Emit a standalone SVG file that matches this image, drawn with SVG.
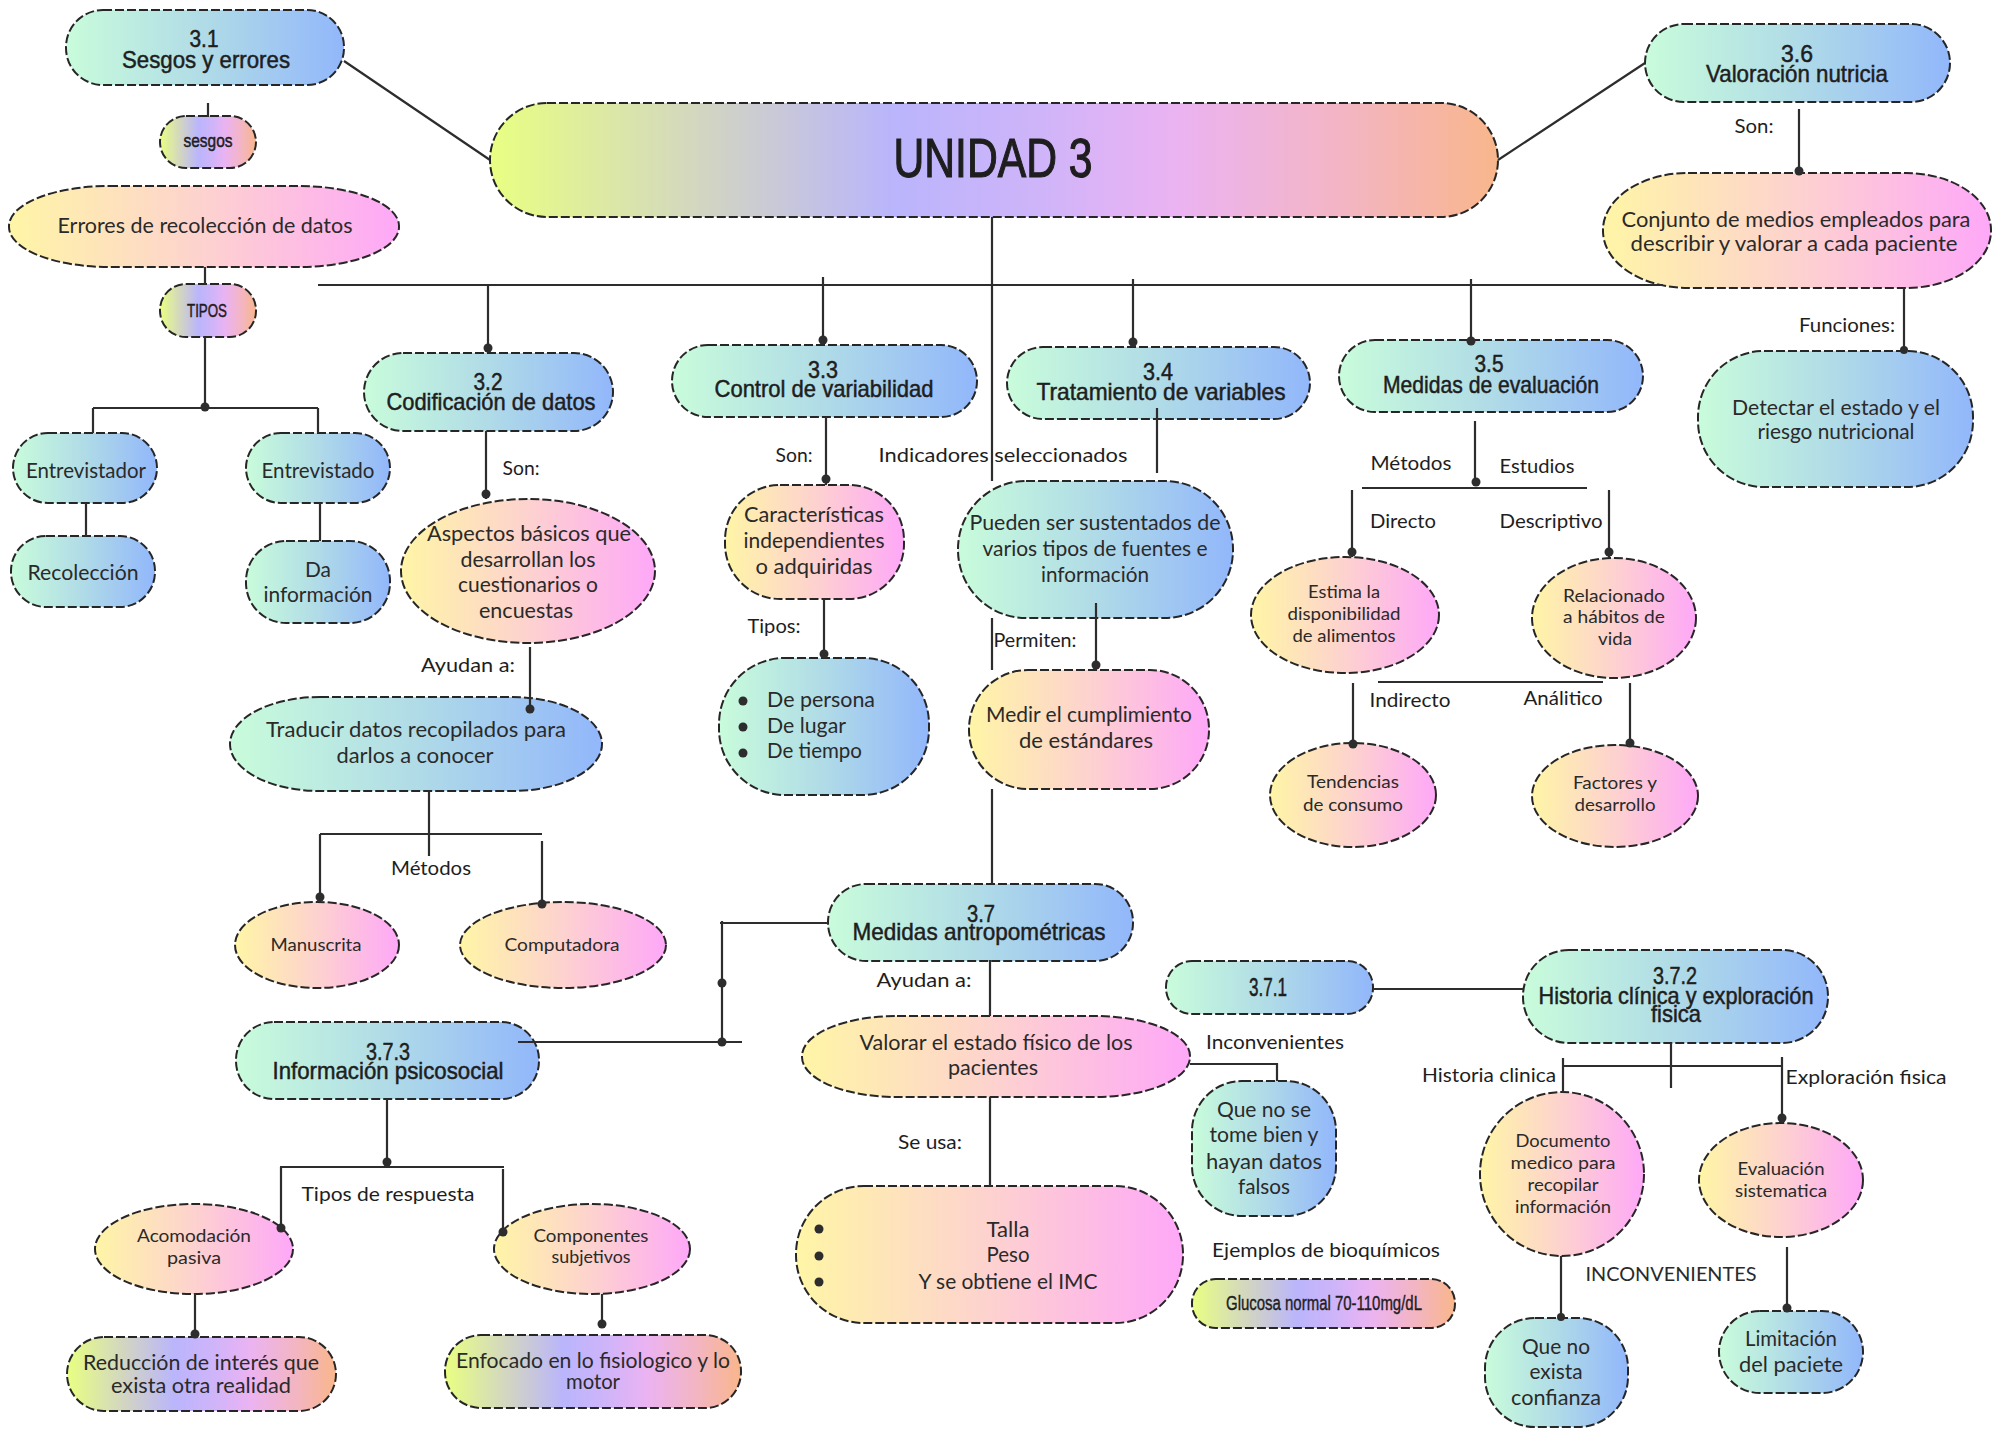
<svg xmlns="http://www.w3.org/2000/svg" width="1993" height="1431" viewBox="0 0 1993 1431">
<defs>
<linearGradient id="gB" x1="0" y1="0" x2="1" y2="0"><stop offset="0" stop-color="#c9fcdb"/><stop offset="0.5" stop-color="#b0dbe7"/><stop offset="1" stop-color="#92b7fb"/></linearGradient>
<linearGradient id="gP" x1="0" y1="0" x2="1" y2="0"><stop offset="0" stop-color="#fff5a6"/><stop offset="0.5" stop-color="#fdd2cf"/><stop offset="1" stop-color="#fea8f8"/></linearGradient>
<linearGradient id="gR" x1="0" y1="0" x2="1" y2="0"><stop offset="0" stop-color="#e8ff82"/><stop offset="0.22" stop-color="#d1d4c4"/><stop offset="0.4" stop-color="#bab5fc"/><stop offset="0.55" stop-color="#d0b4f9"/><stop offset="0.68" stop-color="#ebb3f2"/><stop offset="0.85" stop-color="#f3b5c2"/><stop offset="1" stop-color="#f9b68b"/></linearGradient>
<style>
.n{stroke:#262626;stroke-width:2;stroke-dasharray:9 3}
.B{fill:url(#gB)}.P{fill:url(#gP)}.R{fill:url(#gR)}
.c{stroke:#2d2d2d;stroke-width:2.2;fill:none}
.d{fill:#2d2d2d}
.h{font-family:"Liberation Sans Narrow","Liberation Sans",Arial,sans-serif;font-size:24px;fill:#1e1e1e;stroke:#1e1e1e;stroke-width:0.5;text-anchor:middle}
.b{font-family:Lato,"Open Sans",sans-serif;font-size:21px;fill:#2a2a2a;text-anchor:middle}
.l{font-family:Lato,"Open Sans",sans-serif;font-size:20px;fill:#1e1e1e;text-anchor:middle}
.s{font-family:Lato,"Open Sans",sans-serif;font-size:18px;fill:#2a2a2a;text-anchor:middle}
</style>
</defs>
<rect width="1993" height="1431" fill="#ffffff"/>

<g id="nodes">
<g id="n31"><rect class="n B" x="66" y="10" width="278" height="75" rx="37"/><text class="h"><tspan x="204" y="47" textLength="29" lengthAdjust="spacingAndGlyphs">3.1</tspan><tspan x="206" y="68" textLength="168" lengthAdjust="spacingAndGlyphs">Sesgos y errores</tspan></text></g>
<g id="nsesgos"><rect class="n R" x="160" y="116" width="96" height="52" rx="26"/><text class="h" x="208" y="147" style="font-size:19px" textLength="49" lengthAdjust="spacingAndGlyphs">sesgos</text></g>
<g id="nerrores"><rect class="n P" x="9" y="186" width="390" height="81" rx="100" ry="40"/><text class="b" x="205" y="233" textLength="295" lengthAdjust="spacingAndGlyphs">Errores de recolección de datos</text></g>
<g id="ntipos"><rect class="n R" x="160" y="284" width="96" height="53" rx="26"/><text class="h" x="207" y="317" style="font-size:19px" textLength="40" lengthAdjust="spacingAndGlyphs">TIPOS</text></g>
<g id="nunidad"><rect class="n R" x="490" y="103" width="1008" height="114" rx="57"/><text class="h" x="993" y="177" style="font-size:55px;stroke-width:1.2" textLength="199" lengthAdjust="spacingAndGlyphs">UNIDAD 3</text></g>
<g id="n36"><rect class="n B" x="1645" y="24" width="305" height="78" rx="39"/><text class="h"><tspan x="1797" y="62" textLength="32" lengthAdjust="spacingAndGlyphs">3.6</tspan><tspan x="1797" y="82" textLength="182" lengthAdjust="spacingAndGlyphs">Valoración nutricia</tspan></text></g>
<g id="nconjunto"><rect class="n P" x="1603" y="173" width="388" height="115" rx="85" ry="57"/><text class="b"><tspan x="1796" y="227" textLength="349" lengthAdjust="spacingAndGlyphs">Conjunto de medios empleados para</tspan><tspan x="1794" y="251" textLength="327" lengthAdjust="spacingAndGlyphs">describir y valorar a cada paciente</tspan></text></g>
<g id="ndetectar"><rect class="n B" x="1698" y="351" width="275" height="136" rx="66"/><text class="b"><tspan x="1836" y="415" textLength="208" lengthAdjust="spacingAndGlyphs">Detectar el estado y el</tspan><tspan x="1836" y="439" textLength="157" lengthAdjust="spacingAndGlyphs">riesgo nutricional</tspan></text></g>
<g id="n32"><rect class="n B" x="364" y="353" width="249" height="78" rx="39"/><text class="h"><tspan x="488" y="390" textLength="29" lengthAdjust="spacingAndGlyphs">3.2</tspan><tspan x="491" y="410" textLength="209" lengthAdjust="spacingAndGlyphs">Codificación de datos</tspan></text></g>
<g id="n33"><rect class="n B" x="672" y="345" width="305" height="72" rx="36"/><text class="h"><tspan x="823" y="378" textLength="30" lengthAdjust="spacingAndGlyphs">3.3</tspan><tspan x="824" y="397" textLength="219" lengthAdjust="spacingAndGlyphs">Control de variabilidad</tspan></text></g>
<g id="n34"><rect class="n B" x="1007" y="347" width="303" height="72" rx="36"/><text class="h"><tspan x="1158" y="380" textLength="30" lengthAdjust="spacingAndGlyphs">3.4</tspan><tspan x="1161" y="400" textLength="249" lengthAdjust="spacingAndGlyphs">Tratamiento de variables</tspan></text></g>
<g id="n35"><rect class="n B" x="1339" y="340" width="304" height="72" rx="36"/><text class="h"><tspan x="1489" y="372" textLength="29" lengthAdjust="spacingAndGlyphs">3.5</tspan><tspan x="1491" y="393" textLength="216" lengthAdjust="spacingAndGlyphs">Medidas de evaluación</tspan></text></g>
<g id="nentrevistador"><rect class="n B" x="13" y="433" width="144" height="70" rx="35"/><text class="b" x="86" y="478" textLength="120" lengthAdjust="spacingAndGlyphs">Entrevistador</text></g>
<g id="nrecoleccion"><rect class="n B" x="11" y="536" width="144" height="71" rx="35"/><text class="b" x="83" y="580" textLength="111" lengthAdjust="spacingAndGlyphs">Recolección</text></g>
<g id="nentrevistado"><rect class="n B" x="246" y="433" width="144" height="70" rx="35"/><text class="b" x="318" y="478" textLength="113" lengthAdjust="spacingAndGlyphs">Entrevistado</text></g>
<g id="ndainfo"><rect class="n B" x="246" y="541" width="144" height="82" rx="40"/><text class="b"><tspan x="318" y="577" textLength="26" lengthAdjust="spacingAndGlyphs">Da</tspan><tspan x="318" y="602" textLength="109" lengthAdjust="spacingAndGlyphs">información</tspan></text></g>
<g id="naspectos"><ellipse class="n P" cx="528" cy="571" rx="127" ry="72"/><text class="b"><tspan x="529" y="541" textLength="204" lengthAdjust="spacingAndGlyphs">Aspectos básicos que</tspan><tspan x="528" y="567" textLength="135" lengthAdjust="spacingAndGlyphs">desarrollan los</tspan><tspan x="528" y="592" textLength="140" lengthAdjust="spacingAndGlyphs">cuestionarios o</tspan><tspan x="526" y="618" textLength="94" lengthAdjust="spacingAndGlyphs">encuestas</tspan></text></g>
<g id="ntraducir"><rect class="n B" x="230" y="697" width="372" height="94" rx="90" ry="47"/><text class="b"><tspan x="416" y="737" textLength="300" lengthAdjust="spacingAndGlyphs">Traducir datos recopilados para</tspan><tspan x="415" y="763" textLength="157" lengthAdjust="spacingAndGlyphs">darlos a conocer</tspan></text></g>
<g id="nmanuscrita"><ellipse class="n P" cx="317" cy="945" rx="82" ry="43"/><text class="s" x="316" y="951" textLength="91" lengthAdjust="spacingAndGlyphs">Manuscrita</text></g>
<g id="ncomputadora"><ellipse class="n P" cx="563" cy="945" rx="103" ry="43"/><text class="s" x="562" y="951" textLength="115" lengthAdjust="spacingAndGlyphs">Computadora</text></g>
<g id="ncaract"><rect class="n P" x="725" y="485" width="179" height="114" rx="55"/><text class="b"><tspan x="814" y="522" textLength="140" lengthAdjust="spacingAndGlyphs">Características</tspan><tspan x="814" y="548" textLength="141" lengthAdjust="spacingAndGlyphs">independientes</tspan><tspan x="814" y="574" textLength="117" lengthAdjust="spacingAndGlyphs">o adquiridas</tspan></text></g>
<g id="ndepersona"><rect class="n B" x="719" y="658" width="210" height="137" rx="66"/><circle class="d" cx="743" cy="701" r="4.5"/><circle class="d" cx="743" cy="727" r="4.5"/><circle class="d" cx="743" cy="753" r="4.5"/><text class="b" style="text-anchor:start"><tspan x="767" y="707" textLength="108" lengthAdjust="spacingAndGlyphs">De persona</tspan><tspan x="767" y="733" textLength="79" lengthAdjust="spacingAndGlyphs">De lugar</tspan><tspan x="767" y="758" textLength="95" lengthAdjust="spacingAndGlyphs">De tiempo</tspan></text></g>
<g id="npueden"><rect class="n B" x="958" y="481" width="275" height="137" rx="68"/><text class="b"><tspan x="1095" y="530" textLength="251" lengthAdjust="spacingAndGlyphs">Pueden ser sustentados de</tspan><tspan x="1095" y="556" textLength="225" lengthAdjust="spacingAndGlyphs">varios tipos de fuentes e</tspan><tspan x="1095" y="582" textLength="108" lengthAdjust="spacingAndGlyphs">información</tspan></text></g>
<g id="nmedir"><rect class="n P" x="969" y="670" width="240" height="119" rx="59"/><text class="b"><tspan x="1089" y="722" textLength="206" lengthAdjust="spacingAndGlyphs">Medir el cumplimiento</tspan><tspan x="1086" y="748" textLength="134" lengthAdjust="spacingAndGlyphs">de estándares</tspan></text></g>
<g id="nestima"><ellipse class="n P" cx="1345" cy="615" rx="94" ry="58"/><text class="s"><tspan x="1344" y="598" textLength="72" lengthAdjust="spacingAndGlyphs">Estima la</tspan><tspan x="1344" y="620" textLength="113" lengthAdjust="spacingAndGlyphs">disponibilidad</tspan><tspan x="1344" y="642" textLength="103" lengthAdjust="spacingAndGlyphs">de alimentos</tspan></text></g>
<g id="nrelacionado"><ellipse class="n P" cx="1614" cy="618" rx="82" ry="60"/><text class="s"><tspan x="1614" y="602" textLength="102" lengthAdjust="spacingAndGlyphs">Relacionado</tspan><tspan x="1614" y="623" textLength="102" lengthAdjust="spacingAndGlyphs">a hábitos de</tspan><tspan x="1615" y="645" textLength="34" lengthAdjust="spacingAndGlyphs">vida</tspan></text></g>
<g id="ntendencias"><ellipse class="n P" cx="1353" cy="795" rx="83" ry="52"/><text class="s"><tspan x="1353" y="788" textLength="92" lengthAdjust="spacingAndGlyphs">Tendencias</tspan><tspan x="1353" y="811" textLength="100" lengthAdjust="spacingAndGlyphs">de consumo</tspan></text></g>
<g id="nfactores"><ellipse class="n P" cx="1615" cy="796" rx="83" ry="51"/><text class="s"><tspan x="1615" y="789" textLength="84" lengthAdjust="spacingAndGlyphs">Factores y</tspan><tspan x="1615" y="811" textLength="81" lengthAdjust="spacingAndGlyphs">desarrollo</tspan></text></g>
<g id="n37"><rect class="n B" x="828" y="884" width="305" height="77" rx="38"/><text class="h"><tspan x="981" y="922" textLength="28" lengthAdjust="spacingAndGlyphs">3.7</tspan><tspan x="979" y="940" textLength="253" lengthAdjust="spacingAndGlyphs">Medidas antropométricas</tspan></text></g>
<g id="n373"><rect class="n B" x="236" y="1022" width="303" height="77" rx="38"/><text class="h"><tspan x="388" y="1060" textLength="44" lengthAdjust="spacingAndGlyphs">3.7.3</tspan><tspan x="388" y="1079" textLength="231" lengthAdjust="spacingAndGlyphs">Información psicosocial</tspan></text></g>
<g id="nvalorar"><rect class="n P" x="802" y="1016" width="388" height="81" rx="95" ry="40"/><text class="b"><tspan x="996" y="1050" textLength="273" lengthAdjust="spacingAndGlyphs">Valorar el estado físico de los</tspan><tspan x="993" y="1075" textLength="90" lengthAdjust="spacingAndGlyphs">pacientes</tspan></text></g>
<g id="nqueno"><rect class="n B" x="1192" y="1081" width="144" height="135" rx="50"/><text class="b"><tspan x="1264" y="1117" textLength="94" lengthAdjust="spacingAndGlyphs">Que no se</tspan><tspan x="1264" y="1142" textLength="109" lengthAdjust="spacingAndGlyphs">tome bien y</tspan><tspan x="1264" y="1169" textLength="116" lengthAdjust="spacingAndGlyphs">hayan datos</tspan><tspan x="1264" y="1194" textLength="52" lengthAdjust="spacingAndGlyphs">falsos</tspan></text></g>
<g id="ntalla"><rect class="n P" x="796" y="1186" width="387" height="137" rx="68"/><circle class="d" cx="819" cy="1229" r="4.5"/><circle class="d" cx="819" cy="1256" r="4.5"/><circle class="d" cx="819" cy="1282" r="4.5"/><text class="b"><tspan x="1008" y="1237" textLength="43" lengthAdjust="spacingAndGlyphs">Talla</tspan><tspan x="1008" y="1262" textLength="43" lengthAdjust="spacingAndGlyphs">Peso</tspan><tspan x="1008" y="1289" textLength="179" lengthAdjust="spacingAndGlyphs">Y se obtiene el IMC</tspan></text></g>
<g id="nglucosa"><rect class="n R" x="1192" y="1279" width="263" height="49" rx="24"/><text class="h" x="1324" y="1310" style="font-size:20px;stroke-width:0.4" textLength="196" lengthAdjust="spacingAndGlyphs">Glucosa normal 70-110mg/dL</text></g>
<g id="n371"><rect class="n B" x="1166" y="961" width="207" height="53" rx="26"/><text class="h" x="1268" y="996" style="font-size:25px" textLength="38" lengthAdjust="spacingAndGlyphs">3.7.1</text></g>
<g id="n372"><rect class="n B" x="1523" y="950" width="305" height="93" rx="46"/><text class="h"><tspan x="1675" y="984" textLength="44" lengthAdjust="spacingAndGlyphs">3.7.2</tspan><tspan x="1676" y="1004" textLength="275" lengthAdjust="spacingAndGlyphs">Historia clínica y exploración</tspan><tspan x="1676" y="1022" textLength="50" lengthAdjust="spacingAndGlyphs">fisica</tspan></text></g>
<g id="ndocumento"><ellipse class="n P" cx="1562" cy="1174" rx="82" ry="82"/><text class="s"><tspan x="1563" y="1147" textLength="95" lengthAdjust="spacingAndGlyphs">Documento</tspan><tspan x="1563" y="1169" textLength="105" lengthAdjust="spacingAndGlyphs">medico para</tspan><tspan x="1563" y="1191" textLength="71" lengthAdjust="spacingAndGlyphs">recopilar</tspan><tspan x="1563" y="1213" textLength="96" lengthAdjust="spacingAndGlyphs">información</tspan></text></g>
<g id="nevaluacion"><ellipse class="n P" cx="1781" cy="1180" rx="82" ry="57"/><text class="s"><tspan x="1781" y="1175" textLength="87" lengthAdjust="spacingAndGlyphs">Evaluación</tspan><tspan x="1781" y="1197" textLength="92" lengthAdjust="spacingAndGlyphs">sistematica</tspan></text></g>
<g id="nquenoexista"><rect class="n B" x="1485" y="1318" width="143" height="109" rx="50"/><text class="b"><tspan x="1556" y="1354" textLength="68" lengthAdjust="spacingAndGlyphs">Que no</tspan><tspan x="1556" y="1379" textLength="53" lengthAdjust="spacingAndGlyphs">exista</tspan><tspan x="1556" y="1405" textLength="90" lengthAdjust="spacingAndGlyphs">confianza</tspan></text></g>
<g id="nlimitacion"><rect class="n B" x="1719" y="1311" width="144" height="82" rx="41"/><text class="b"><tspan x="1791" y="1346" textLength="92" lengthAdjust="spacingAndGlyphs">Limitación</tspan><tspan x="1791" y="1372" textLength="104" lengthAdjust="spacingAndGlyphs">del paciete</tspan></text></g>
<g id="nacomodacion"><ellipse class="n P" cx="194" cy="1249" rx="99" ry="45"/><text class="s"><tspan x="194" y="1242" textLength="114" lengthAdjust="spacingAndGlyphs">Acomodación</tspan><tspan x="194" y="1264" textLength="54" lengthAdjust="spacingAndGlyphs">pasiva</tspan></text></g>
<g id="ncomponentes"><ellipse class="n P" cx="592" cy="1249" rx="98" ry="45"/><text class="s"><tspan x="591" y="1242" textLength="115" lengthAdjust="spacingAndGlyphs">Componentes</tspan><tspan x="591" y="1263" textLength="79" lengthAdjust="spacingAndGlyphs">subjetivos</tspan></text></g>
<g id="nreduccion"><rect class="n R" x="67" y="1337" width="269" height="74" rx="37"/><text class="b"><tspan x="201" y="1370" textLength="236" lengthAdjust="spacingAndGlyphs">Reducción de interés que</tspan><tspan x="201" y="1393" textLength="180" lengthAdjust="spacingAndGlyphs">exista otra realidad</tspan></text></g>
<g id="nenfocado"><rect class="n R" x="445" y="1335" width="296" height="73" rx="36"/><text class="b"><tspan x="593" y="1368" textLength="274" lengthAdjust="spacingAndGlyphs">Enfocado en lo fisiologico y lo</tspan><tspan x="593" y="1389" textLength="54" lengthAdjust="spacingAndGlyphs">motor</tspan></text></g>
</g>

<g id="connectors">
<path class="c" d="M344 61 L490 160 M208 103 V117 M205 267 V284 M205 337 V408 M93 408 H318 M93 408 V433 M318 408 V433"/>
<path class="c" d="M318 285 H1663 M488 285 V353 M823 277 V345 M1133 279 V347 M1471 279 V340"/>
<path class="c" d="M992 217 V481 M992 618 V670 M992 789 V884"/>
<path class="c" d="M1498 160 L1645 63 M1799 109 V173 M1904 288 V351"/>
<path class="c" d="M86 503 V536 M320 503 V541 M486 431 V499 M530 647 V709"/>
<path class="c" d="M429 791 V856 M320 834 H542 M320 834 V902 M542 841 V904"/>
<path class="c" d="M826 417 V485 M824 599 V658 M1157 408 V473 M1096 603 V670"/>
<path class="c" d="M1475 421 V482 M1362 488 H1587 M1352 490 V557 M1609 490 V558 M1378 682 H1603 M1353 683 V744 M1630 683 V745"/>
<path class="c" d="M828 923 H720 M722 921 V1042 M518 1042 H742 M990 960 V1016 M1190 1064 H1277 V1081 M990 1097 V1186"/>
<path class="c" d="M1373 989 H1523 M1671 1043 V1088 M1563 1066 H1783 M1563 1058 V1093 M1782 1057 V1123 M1561 1256 V1318 M1787 1247 V1311"/>
<path class="c" d="M387 1099 V1167 M280 1167 H504 M281 1167 V1230 M503 1169 V1232 M195 1293 V1337 M602 1294 V1324"/>
<g class="d">
<circle cx="205" cy="407" r="4.5"/><circle cx="488" cy="348" r="4.5"/><circle cx="823" cy="340" r="4.5"/><circle cx="1133" cy="342" r="4.5"/><circle cx="1471" cy="341" r="4.5"/>
<circle cx="1799" cy="171" r="4.5"/><circle cx="1904" cy="350" r="4"/><circle cx="486" cy="494" r="4.5"/><circle cx="530" cy="709" r="4.5"/><circle cx="320" cy="897" r="4.5"/><circle cx="542" cy="904" r="4.5"/>
<circle cx="826" cy="479" r="4.5"/><circle cx="824" cy="654" r="4.5"/><circle cx="1096" cy="665" r="4.5"/><circle cx="1476" cy="482" r="4.5"/><circle cx="1352" cy="552" r="4.5"/><circle cx="1609" cy="552" r="4.5"/>
<circle cx="1353" cy="744" r="4.5"/><circle cx="1630" cy="743" r="4.5"/><circle cx="722" cy="983" r="4.5"/><circle cx="722" cy="1042" r="4.5"/><circle cx="387" cy="1162" r="4.5"/><circle cx="281" cy="1228" r="4.5"/>
<circle cx="503" cy="1232" r="4.5"/><circle cx="195" cy="1334" r="4.5"/><circle cx="602" cy="1324" r="4.5"/><circle cx="1782" cy="1118" r="4.5"/><circle cx="1561" cy="1317" r="4"/><circle cx="1787" cy="1308" r="4.5"/>
</g>
</g>

<g id="labels">
<text class="l" x="1754" y="133" textLength="39" lengthAdjust="spacingAndGlyphs">Son:</text>
<text class="l" x="1847" y="332" textLength="96" lengthAdjust="spacingAndGlyphs">Funciones:</text>
<text class="l" x="521" y="475" textLength="37" lengthAdjust="spacingAndGlyphs">Son:</text>
<text class="l" x="468" y="672" textLength="94" lengthAdjust="spacingAndGlyphs">Ayudan a:</text>
<text class="l" x="431" y="875" textLength="80" lengthAdjust="spacingAndGlyphs">Métodos</text>
<text class="l" x="794" y="462" textLength="37" lengthAdjust="spacingAndGlyphs">Son:</text>
<text class="l" x="1003" y="462" textLength="249" lengthAdjust="spacingAndGlyphs">Indicadores seleccionados</text>
<text class="l" x="774" y="633" textLength="53" lengthAdjust="spacingAndGlyphs">Tipos:</text>
<text class="l" x="1035" y="647" textLength="83" lengthAdjust="spacingAndGlyphs">Permiten:</text>
<text class="l" x="1411" y="470" textLength="81" lengthAdjust="spacingAndGlyphs">Métodos</text>
<text class="l" x="1537" y="473" textLength="75" lengthAdjust="spacingAndGlyphs">Estudios</text>
<text class="l" x="1403" y="528" textLength="66" lengthAdjust="spacingAndGlyphs">Directo</text>
<text class="l" x="1551" y="528" textLength="103" lengthAdjust="spacingAndGlyphs">Descriptivo</text>
<text class="l" x="1410" y="707" textLength="81" lengthAdjust="spacingAndGlyphs">Indirecto</text>
<text class="l" x="1563" y="705" textLength="79" lengthAdjust="spacingAndGlyphs">Análitico</text>
<text class="l" x="924" y="987" textLength="95" lengthAdjust="spacingAndGlyphs">Ayudan a:</text>
<text class="l" x="1275" y="1049" textLength="138" lengthAdjust="spacingAndGlyphs">Inconvenientes</text>
<text class="l" x="930" y="1149" textLength="64" lengthAdjust="spacingAndGlyphs">Se usa:</text>
<text class="l" x="1326" y="1257" textLength="228" lengthAdjust="spacingAndGlyphs">Ejemplos de bioquímicos</text>
<text class="l" x="388" y="1201" textLength="173" lengthAdjust="spacingAndGlyphs">Tipos de respuesta</text>
<text class="l" x="1489" y="1082" textLength="134" lengthAdjust="spacingAndGlyphs">Historia clinica</text>
<text class="l" x="1866" y="1084" textLength="161" lengthAdjust="spacingAndGlyphs">Exploración fisica</text>
<text class="l" x="1671" y="1281" style="fill:#2a2a2a" textLength="171" lengthAdjust="spacingAndGlyphs">INCONVENIENTES</text>
</g>
</svg>
